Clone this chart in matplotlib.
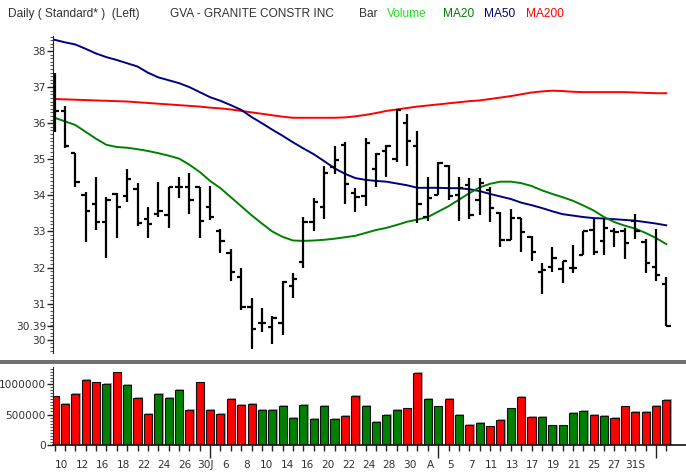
import matplotlib
matplotlib.use("Agg")
import matplotlib.pyplot as plt
import matplotlib.patches as mpatches
import matplotlib.transforms as mtransforms
from matplotlib.ticker import FixedLocator, MultipleLocator
import numpy as np

# ---------------- data ----------------
opens = [37.00, 36.35, 35.17, 34.01, 33.75, 33.25, 34.04, 33.98, 34.17, 33.34,
         33.48, 33.46, 34.22, 34.22, 34.22, 33.69, 33.02, 32.41, 31.73, 30.92,
         30.46, 30.36, 30.46, 31.49, 32.16, 33.27, 33.69, 34.78, 35.40, 34.07,
         33.98, 34.72, 35.24, 35.00, 36.01, 35.37, 33.41, 34.01, 34.81, 34.01,
         34.30, 33.87, 34.15, 33.52, 32.76, 33.37, 32.85, 31.89, 32.01, 31.95,
         31.98, 32.35, 33.04, 32.74, 33.01, 33.00, 33.30, 32.70, 32.03, 31.55]
highs = [37.38, 36.48, 35.17, 34.09, 34.50, 33.96, 34.06, 34.72, 34.33, 33.69,
         34.37, 34.24, 34.50, 34.61, 34.24, 34.26, 33.06, 32.52, 31.99, 31.15,
         30.87, 30.66, 31.64, 31.84, 33.41, 33.92, 34.81, 35.37, 35.49, 34.21,
         35.58, 35.17, 35.40, 36.38, 36.25, 35.79, 34.50, 34.92, 34.84, 34.50,
         34.47, 34.47, 34.24, 33.55, 33.62, 33.37, 32.88, 32.12, 32.58, 32.17,
         32.63, 33.01, 33.35, 33.35, 33.09, 33.11, 33.49, 32.79, 33.07, 31.75]
lows = [35.76, 35.30, 34.24, 32.72, 33.04, 32.26, 32.81, 33.82, 33.16, 32.81,
        33.41, 33.10, 33.92, 33.48, 32.81, 33.32, 32.41, 31.64, 30.83, 29.74,
        30.22, 29.88, 30.13, 31.15, 31.98, 33.00, 33.34, 34.59, 33.76, 33.55,
        33.70, 34.24, 34.50, 34.93, 34.81, 33.23, 33.30, 34.01, 33.87, 33.30,
        33.34, 33.46, 33.27, 32.56, 32.76, 32.44, 32.17, 31.27, 31.89, 31.58,
        31.84, 32.35, 32.35, 32.35, 32.56, 32.24, 32.79, 31.84, 31.64, 30.37]
closes = [36.35, 35.37, 34.36, 33.57, 33.25, 33.87, 33.68, 34.45, 33.23, 33.21,
          33.58, 34.24, 34.22, 33.87, 33.29, 33.41, 32.75, 31.88, 30.90, 30.29,
          30.46, 30.60, 31.61, 31.68, 33.27, 33.83, 34.63, 34.98, 34.31, 33.96,
          35.44, 35.15, 35.37, 36.37, 35.50, 33.76, 33.94, 34.89, 33.98, 34.20,
          33.46, 34.35, 33.64, 32.76, 33.37, 32.99, 32.42, 31.92, 32.26, 32.17,
          31.98, 33.01, 32.42, 33.09, 32.99, 32.69, 33.01, 32.12, 31.79, 30.39]
volume = [797, 681, 835, 1071, 1027, 1005, 1192, 989, 769, 516,
          835, 769, 907, 571, 1027, 582, 516, 753, 654, 681,
          571, 571, 643, 451, 654, 423, 643, 423, 478, 808,
          643, 379, 489, 582, 599, 1181, 753, 632, 753, 489,
          335, 363, 308, 407, 599, 786, 462, 462, 324, 324,
          533, 560, 489, 478, 451, 632, 544, 544, 643, 736]
ma20 = [36.15, 36.05, 35.95, 35.76, 35.57, 35.40, 35.34, 35.32, 35.28, 35.23,
        35.17, 35.10, 35.02, 34.85, 34.65, 34.40, 34.20, 33.95, 33.70, 33.45,
        33.22, 33.00, 32.85, 32.75, 32.74, 32.75, 32.77, 32.80, 32.84, 32.88,
        32.96, 33.04, 33.10, 33.18, 33.27, 33.33, 33.40, 33.55, 33.70, 33.88,
        34.06, 34.22, 34.32, 34.38, 34.38, 34.34, 34.26, 34.14, 34.04, 33.95,
        33.85, 33.72, 33.58, 33.40, 33.26, 33.16, 33.08, 32.96, 32.82, 32.65]
ma50 = [38.31, 38.24, 38.18, 38.06, 37.93, 37.83, 37.75, 37.66, 37.57, 37.40,
        37.27, 37.19, 37.11, 37.00, 36.86, 36.72, 36.62, 36.50, 36.37, 36.17,
        36.00, 35.82, 35.65, 35.47, 35.30, 35.14, 34.95, 34.75, 34.60, 34.48,
        34.43, 34.40, 34.38, 34.33, 34.28, 34.21, 34.21, 34.21, 34.20, 34.20,
        34.17, 34.12, 34.04, 33.97, 33.90, 33.80, 33.73, 33.65, 33.56, 33.48,
        33.44, 33.40, 33.37, 33.36, 33.34, 33.32, 33.30, 33.26, 33.22, 33.17]
ma200 = [36.67, 36.66, 36.65, 36.64, 36.63, 36.62, 36.61, 36.60, 36.58, 36.56,
         36.54, 36.52, 36.50, 36.48, 36.46, 36.43, 36.41, 36.38, 36.34, 36.30,
         36.26, 36.22, 36.18, 36.15, 36.15, 36.15, 36.15, 36.15, 36.16, 36.19,
         36.23, 36.28, 36.34, 36.38, 36.42, 36.46, 36.49, 36.52, 36.55, 36.58,
         36.61, 36.63, 36.67, 36.71, 36.75, 36.80, 36.85, 36.88, 36.90, 36.89,
         36.87, 36.86, 36.86, 36.86, 36.86, 36.86, 36.85, 36.84, 36.83, 36.83]
date_labels = ["10", "12", "16", "18", "22", "24", "26", "30J", "6", "8",
               "10", "14", "16", "20", "22", "24", "28", "30", "A", "5",
               "7", "11", "13", "17", "19", "21", "25", "27", "31S"]
month_start_bars = [15, 37, 58]
price_ticks = [30, 30.39, 31, 32, 33, 34, 35, 36, 37, 38]
price_tick_labels = ["30", "30.39", "31", "32", "33", "34", "35", "36", "37", "38"]
vol_ticks = [0, 500000, 1000000]
vol_tick_labels = ["0", "500000", "1000000"]

# ---------------- figure ----------------
W, H = 686, 476
fig = plt.figure(figsize=(W / 100, H / 100), dpi=100)
fig.patch.set_facecolor("white")
FONT = "DejaVu Sans"
FS = 7.6
TXT = "#333333"


def fx(px):
    return px / W


def fy(py):
    return 1 - py / H


axp = fig.add_axes([fx(53), fy(353), fx(686) - fx(53), fy(36) - fy(353)])
axv = fig.add_axes([fx(53), fy(445), fx(686) - fx(53), fy(367) - fy(445)])

n = len(closes)
x = np.arange(n)
o = np.array(opens); h = np.array(highs); l = np.array(lows); c = np.array(closes)
xlim = (-0.15, 60.9)

# price panel
axp.plot(x, ma200, color="#ff0000", lw=1.4, zorder=2)
axp.plot(x, ma50, color="#000080", lw=1.4, zorder=2)
axp.plot(x, ma20, color="#008000", lw=1.4, zorder=2)
kw = dict(color="black", lw=1.6, capstyle="butt", zorder=3)
axp.vlines(x, l, h, **kw)
axp.hlines(o, x - 0.42, x, **kw)
axp.hlines(c, x, x + 0.42, **kw)
axp.set_xlim(*xlim)
axp.set_ylim(29.634, 38.415)
for s in ["top", "right", "bottom"]:
    axp.spines[s].set_visible(False)
axp.spines["left"].set_color("#222222")
axp.set_xticks([])
axp.yaxis.set_major_locator(FixedLocator(price_ticks))
axp.set_yticklabels(price_tick_labels, fontsize=FS, color=TXT, family=FONT)
axp.yaxis.set_minor_locator(MultipleLocator(0.1))
axp.tick_params(axis="y", which="major", length=4, width=1, color="#222222", pad=1)
axp.tick_params(axis="y", which="minor", length=2, width=0.8, color="#555555")

# volume panel
vol = np.array(volume) * 1000.0
up = c >= o
up[54] = False
cols = np.where(up, "#008000", "#ff0000")
axv.bar(x + 0.12, vol + 12000, width=0.78, color="#a8a8a8", zorder=1)
axv.bar(x, vol, width=0.78, color=cols, edgecolor="#111111", lw=0.8, zorder=2)
axv.set_xlim(*xlim)
axv.set_ylim(0, 1.28e6)
for s in ["top", "right"]:
    axv.spines[s].set_visible(False)
axv.spines["left"].set_color("#222222")
axv.spines["bottom"].set_color("#111111")
axv.spines["bottom"].set_linewidth(1.2)
axv.yaxis.set_major_locator(FixedLocator(vol_ticks))
axv.set_yticklabels(vol_tick_labels, fontsize=FS, color=TXT, family=FONT)
axv.yaxis.set_minor_locator(MultipleLocator(50000))
axv.tick_params(axis="y", which="major", length=4, width=1, color="#222222", pad=1)
axv.tick_params(axis="y", which="minor", length=2, width=0.8, color="#555555")
axv.xaxis.set_major_locator(FixedLocator(month_start_bars))
axv.xaxis.set_minor_locator(FixedLocator(x))
axv.set_xticklabels([""] * len(month_start_bars))
axv.tick_params(axis="x", which="major", length=9, width=1, color="#222222")
axv.tick_params(axis="x", which="minor", length=4, width=1, color="#222222")

trans = mtransforms.blended_transform_factory(axv.transData, fig.transFigure)
for k, lab in enumerate(date_labels):
    axv.text(2 * k + 0.72 - 0.027 * k, fy(465), lab, transform=trans, ha="center",
             va="center", fontsize=FS, color=TXT, family=FONT)

# separator between panels
fig.add_artist(mpatches.Rectangle((0, fy(364)), 1, fy(360) - fy(364),
                                  transform=fig.transFigure, color="#707070", lw=0))

# title line
TFS = 8.6
title_parts = [("Daily ( Standard* )  (Left)", 8, "#333333"),
               ("GVA - GRANITE CONSTR INC", 170, "#333333"),
               ("Bar", 359, "#333333"),
               ("Volume", 387, "#22dd22"),
               ("MA20", 443, "#008000"),
               ("MA50", 484, "#000080"),
               ("MA200", 526, "#ff0000")]
for txt, px, col in title_parts:
    fig.text(fx(px), fy(14), txt, ha="left", va="center", fontsize=TFS,
             color=col, family="Liberation Sans")

fig.savefig("out.png", dpi=100, facecolor="white")
